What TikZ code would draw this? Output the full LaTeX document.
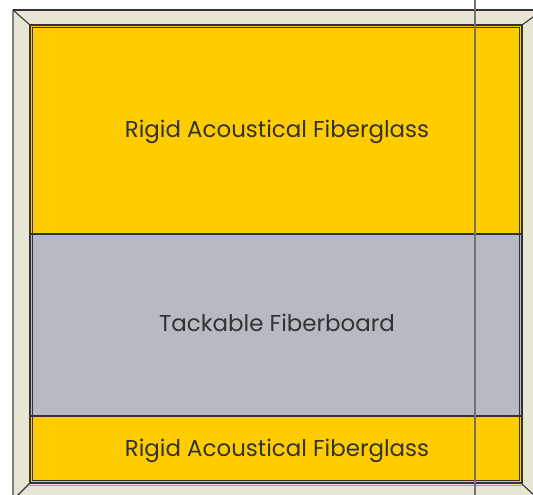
\documentclass[tikz,border=0pt]{standalone}
\usepackage{fontspec}
\setmainfont{Poppins}
\definecolor{glass}{HTML}{FFCC00}
\definecolor{board}{HTML}{B6BAC3}
\definecolor{frame}{HTML}{E8E5D5}
\definecolor{edge}{HTML}{333333}
\tikzset{
  panel/.style={draw=edge, line width=1pt},
  frameline/.style={draw=edge, line width=0.8pt},
  lbl/.style={font=\fontsize{17.2}{19}\selectfont, text=edge, inner sep=0pt}
}
\begin{document}
\begin{tikzpicture}[x=0.75pt,y=-0.75pt]
\useasboundingbox (0,0) rectangle (533,495);
% frame
\fill[frame] (13,10) rectangle (540,500);
\draw[draw=black!50, line width=1.5pt] (13,10) -- (13,500);
\draw[frameline] (13,10) -- (540,10);
\draw[frameline] (13,10) -- (30,25);
\draw[frameline] (522,25) -- (540,12);
\draw[frameline] (30,483) -- (16,497);
\draw[frameline] (522,484) -- (536,497);
\draw[draw=black!40, line width=0.6pt] (30,485) -- (522,485);
% panels
\fill[glass] (30,25) rectangle (522,234);
\fill[board] (30,234) rectangle (522,416);
\fill[glass] (30,416) rectangle (522,483);
\draw[panel] (30,234) -- (522,234);
\draw[panel] (30,416) -- (522,416);
\draw[panel] (30,25) rectangle (522,483);
\draw[draw=edge, line width=0.5pt] (32.5,27.5) rectangle (519.5,480.5);
% labels
\node[lbl] (t1) at (277,131.5) {Rigid Acoustical Fiberglass};
\node[lbl] (t2) at (277,323) {Tackable Fiberboard};
\node[lbl] (t3) at (277,450.5) {Rigid Acoustical Fiberglass};
% vertical guide line
\draw[draw=black!55, line width=1.1pt] (475,0) -- (475,495);
\end{tikzpicture}
\end{document}
